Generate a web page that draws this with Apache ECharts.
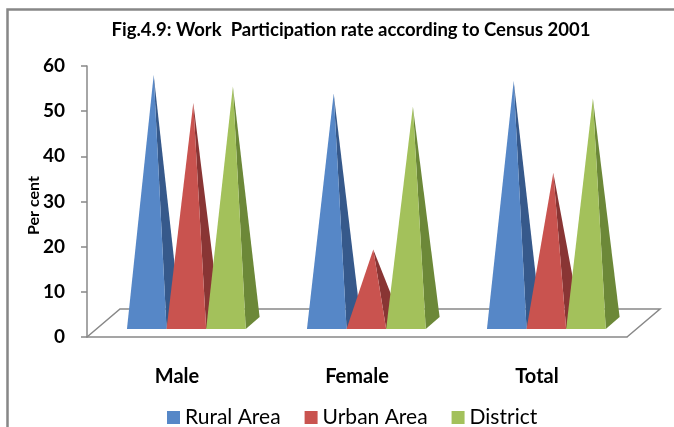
<!DOCTYPE html>
<html>
<head>
<meta charset="utf-8">
<title>Work Participation rate</title>
<script src="https://cdn.jsdelivr.net/npm/echarts@6/dist/echarts.min.js"></script>
<style>
    html, body { margin: 0; padding: 0; background: #fff; }
    #main { width: 674px; height: 427px; }
</style>
</head>
<body>
<div id="main"></div>
<script>
// data
const categories = ['Male', 'Female', 'Total'];
const seriesNames = ['Rural Area', 'Urban Area', 'District'];
const ruralArea = [54.9, 50.8, 53.6];
const urbanArea = [48.7, 16.3, 33.3];
const district = [52.4, 47.9, 49.7];
const yMin = 0;
const yMax = 60;
const yStep = 10;

// front face / shaded side face of each pyramid
const faceColors = [
    ['#5687C7', '#36598B'],
    ['#C9534F', '#893534'],
    ['#A3C15B', '#6C8838']
];
const axisGray = '#888888';
const font = 'Lato, "Liberation Sans", sans-serif';
const grid = { left: 87, right: 47, top: 66, bottom: 90 };

let myChart = echarts.init(document.getElementById('main'));

function pyramid (idx) {
    return function (params, api) {
        const cat = api.value(0);
        const zero = api.coord([cat, 0]);
        const top = api.coord([cat, api.value(1)]);
        const band = api.size([1, 0])[0];
        const w = band * 0.22;
        const dx = w * 0.35;
        const dy = w * 0.3;
        // pyramids stand a bit behind the front edge of the floor
        const left = zero[0] + band * 0.052 - 1.5 * w + idx * w;
        const y0 = zero[1] - 8;
        const fl = [left, y0];
        const fr = [left + w, y0];
        const br = [left + w + dx, y0 - dy];
        const apex = [left + w / 2 + dx / 2, top[1] - 8 - dy / 2];
        return {
            type: 'group',
            children: [{
                type: 'polygon',
                shape: { points: [fr, br, apex] },
                style: { fill: faceColors[idx][1] }
            }, {
                type: 'polygon',
                shape: { points: [fl, fr, apex] },
                style: { fill: faceColors[idx][0] }
            }]
        };
    };
}

const values = [ruralArea, urbanArea, district];
const series = seriesNames.map((name, i) => ({
    name: name,
    type: 'custom',
    renderItem: pyramid(i),
    itemStyle: { color: faceColors[i][0] },
    encode: { x: 0, y: 1 },
    data: values[i].map((v, c) => [c, v]),
    z: 2 + i
}));

// floor of the 3D plot, built from the grid box
const fl = grid.left;
const fr = 674 - grid.right;
const fb = 427 - grid.bottom;
const floorDx = 33;
const floorDy = 28;

myChart.setOption({
    animation: false,
    title: {
        text: 'Fig.4.9: Work  Participation rate according to Census 2001',
        left: 346,
        textAlign: 'center',
        top: 16,
        textStyle: { fontFamily: font, fontWeight: 'bold', fontSize: 18.5, color: '#000' }
    },
    legend: {
        data: seriesNames,
        left: 162,
        top: 402,
        itemWidth: 13,
        itemHeight: 13,
        itemGap: 24,
        icon: 'rect',
        textStyle: { fontFamily: font, fontSize: 21, color: '#000' }
    },
    grid: grid,
    xAxis: {
        type: 'category',
        data: categories,
        boundaryGap: true,
        axisLine: { lineStyle: { color: axisGray, width: 1.5 } },
        axisTick: { length: 6, lineStyle: { color: axisGray, width: 1.5 } },
        axisLabel: { margin: 30, fontFamily: font, fontWeight: 'bold', fontSize: 20, color: '#000' }
    },
    yAxis: {
        type: 'value',
        min: yMin,
        max: yMax,
        interval: yStep,
        name: 'Per cent',
        nameLocation: 'middle',
        nameGap: 45,
        nameMoveOverlap: false,
        nameRotate: 90,
        nameTextStyle: { fontFamily: font, fontWeight: 'bold', fontSize: 16, color: '#000', padding: [0, 8, 0, 0] },
        axisLine: { show: true, lineStyle: { color: axisGray, width: 1.5 } },
        axisTick: { show: true, length: 6, lineStyle: { color: axisGray, width: 1.5 } },
        splitLine: { show: false },
        axisLabel: { margin: 22, fontFamily: font, fontWeight: 'bold', fontSize: 19, color: '#000' }
    },
    graphic: [{
        type: 'polyline',
        shape: { points: [[fl, fb], [fl + floorDx, fb - floorDy], [fr + floorDx, fb - floorDy], [fr, fb]] },
        style: { stroke: axisGray, lineWidth: 1.5, fill: null },
        z: 0
    }, {
        type: 'polyline',
        shape: { points: [[7.5, 427], [7.5, 9.5], [674, 9.5]] },
        style: { stroke: '#878787', lineWidth: 2.5, fill: null }
    }],
    series: series
});
</script>
</body>
</html>
